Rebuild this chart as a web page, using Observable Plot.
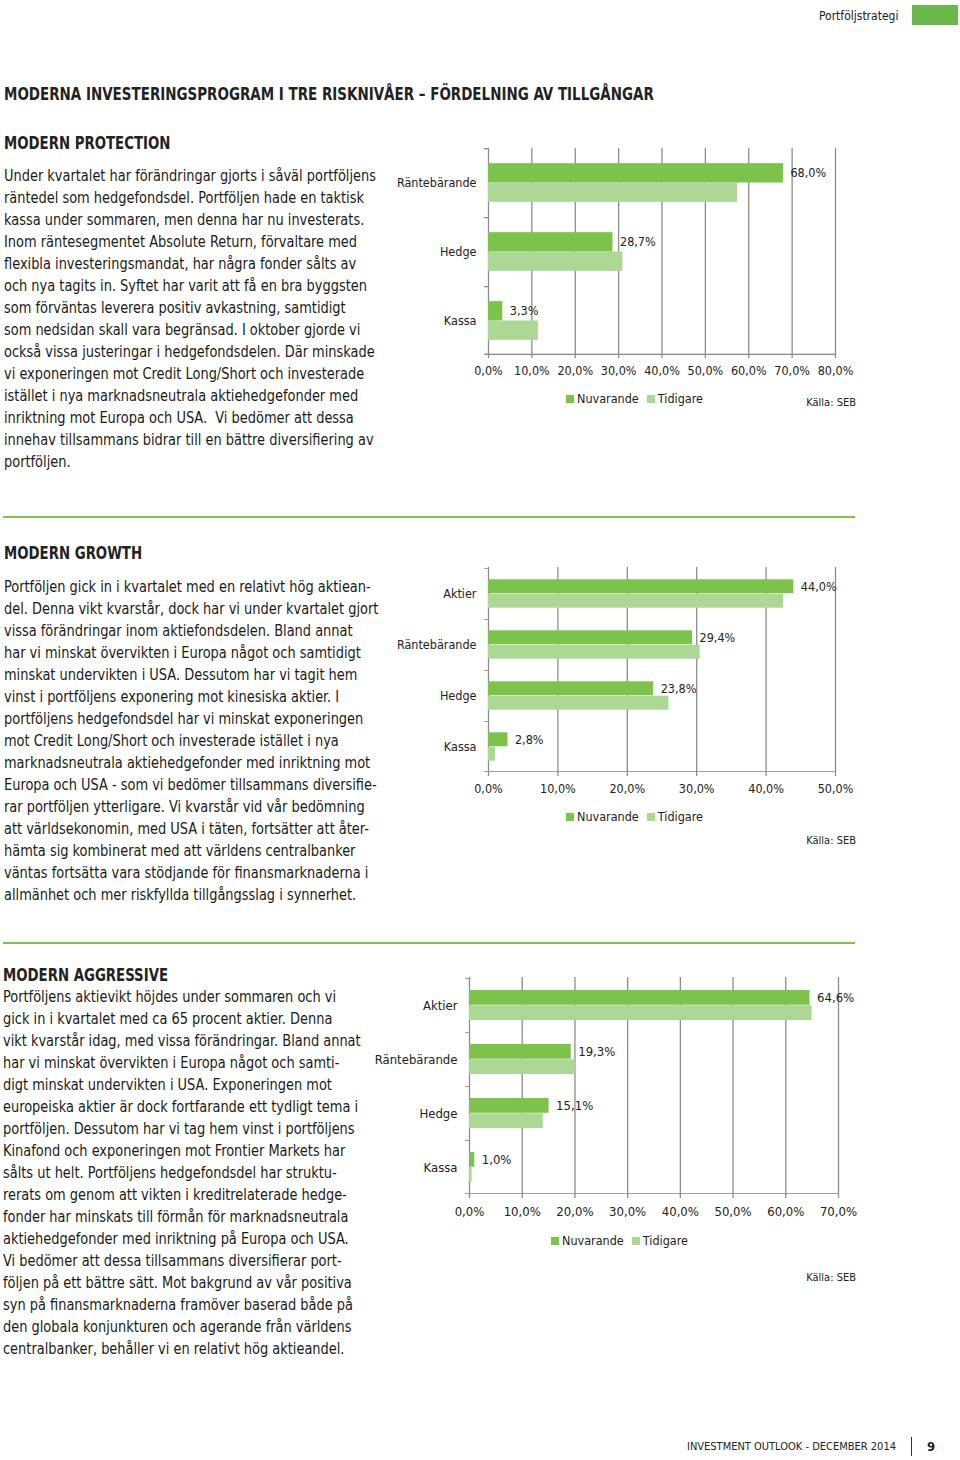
<!DOCTYPE html>
<html>
<head>
<meta charset="utf-8">
<script src="https://cdn.jsdelivr.net/npm/d3@7"></script>
<script src="https://cdn.jsdelivr.net/npm/@observablehq/plot@0.6"></script>
<style>
  html, body { margin: 0; padding: 0; background: #fff; }
  body { width: 960px; height: 1460px; position: relative; overflow: hidden;
         font-family: "Liberation Sans Narrow", "DejaVu Sans Condensed", "Roboto Condensed", sans-serif; color: #1a1a1a; }
  .abs { position: absolute; white-space: pre; transform-origin: 0 0; }
  .body { font-size: 16px; line-height: 22px; transform: scaleX(0.9); }
  .h1 { font-size: 17px; line-height: 22px; font-weight: 600; transform: scaleX(0.88); color: #222; }
  .h2 { font-size: 17px; line-height: 22px; font-weight: 600; transform: scaleX(0.87); color: #222; }
  .rule { position: absolute; height: 2px; background: #7dc24b; left: 3px; width: 852px; }
  .legend { position: absolute; font-size: 12.5px; line-height: 16px; white-space: nowrap; color: #222; }
  .legend span.sw { display: inline-block; width: 8px; height: 8px; margin-right: 3px; vertical-align: 0px; }
  .legend span.lab { margin-right: 8px; }
  .src { position: absolute; font-size: 11px; line-height: 16px; text-align: right; white-space: nowrap; color: #222; }
  .chart { position: absolute; }
</style>
</head>
<body>
<script>
// ---------- DATA ----------
const seriesNames = ["Nuvarande", "Tidigare"];
const seriesColors = ["#7dc24b", "#acd794"];

const protectionCategories = ["Räntebärande", "Hedge", "Kassa"];
const protectionNuvarande = [68.0, 28.7, 3.3];
const protectionTidigare = [57.4, 31.0, 11.5];
const protectionTicks = [0, 10, 20, 30, 40, 50, 60, 70, 80];

const growthCategories = ["Aktier", "Räntebärande", "Hedge", "Kassa"];
const growthNuvarande = [44.0, 29.4, 23.8, 2.8];
const growthTidigare = [42.5, 30.5, 26.0, 1.0];
const growthTicks = [0, 10, 20, 30, 40, 50];

const aggressiveCategories = ["Aktier", "Räntebärande", "Hedge", "Kassa"];
const aggressiveNuvarande = [64.6, 19.3, 15.1, 1.0];
const aggressiveTidigare = [65.0, 20.1, 14.0, 0.5];
const aggressiveTicks = [0, 10, 20, 30, 40, 50, 60, 70];

const sourceText = "Källa: SEB";

const pageTitle = "MODERNA INVESTERINGSPROGRAM I TRE RISKNIVÅER – FÖRDELNING AV TILLGÅNGAR";
const protectionTitle = "MODERN PROTECTION";
const growthTitle = "MODERN GROWTH";
const aggressiveTitle = "MODERN AGGRESSIVE";

const protectionText = [
  "Under kvartalet har förändringar gjorts i såväl portföljens",
  "räntedel som hedgefondsdel. Portföljen hade en taktisk",
  "kassa under sommaren, men denna har nu investerats.",
  "Inom räntesegmentet Absolute Return, förvaltare med",
  "flexibla investeringsmandat, har några fonder sålts av",
  "och nya tagits in. Syftet har varit att få en bra byggsten",
  "som förväntas leverera positiv avkastning, samtidigt",
  "som nedsidan skall vara begränsad. I oktober gjorde vi",
  "också vissa justeringar i hedgefondsdelen. Där minskade",
  "vi exponeringen mot Credit Long/Short och investerade",
  "istället i nya marknadsneutrala aktiehedgefonder med",
  "inriktning mot Europa och USA.  Vi bedömer att dessa",
  "innehav tillsammans bidrar till en bättre diversifiering av",
  "portföljen."
];
const growthText = [
  "Portföljen gick in i kvartalet med en relativt hög aktiean-",
  "del. Denna vikt kvarstår, dock har vi under kvartalet gjort",
  "vissa förändringar inom aktiefondsdelen. Bland annat",
  "har vi minskat övervikten i Europa något och samtidigt",
  "minskat undervikten i USA. Dessutom har vi tagit hem",
  "vinst i portföljens exponering mot kinesiska aktier. I",
  "portföljens hedgefondsdel har vi minskat exponeringen",
  "mot Credit Long/Short och investerade istället i nya",
  "marknadsneutrala aktiehedgefonder med inriktning mot",
  "Europa och USA - som vi bedömer tillsammans diversifie-",
  "rar portföljen ytterligare. Vi kvarstår vid vår bedömning",
  "att världsekonomin, med USA i täten, fortsätter att åter-",
  "hämta sig kombinerat med att världens centralbanker",
  "väntas fortsätta vara stödjande för finansmarknaderna i",
  "allmänhet och mer riskfyllda tillgångsslag i synnerhet."
];
const aggressiveText = [
  "Portföljens aktievikt höjdes under sommaren och vi",
  "gick in i kvartalet med ca 65 procent aktier. Denna",
  "vikt kvarstår idag, med vissa förändringar. Bland annat",
  "har vi minskat övervikten i Europa något och samti-",
  "digt minskat undervikten i USA. Exponeringen mot",
  "europeiska aktier är dock fortfarande ett tydligt tema i",
  "portföljen. Dessutom har vi tag hem vinst i portföljens",
  "Kinafond och exponeringen mot Frontier Markets har",
  "sålts ut helt. Portföljens hedgefondsdel har struktu-",
  "rerats om genom att vikten i kreditrelaterade hedge-",
  "fonder har minskats till förmån för marknadsneutrala",
  "aktiehedgefonder med inriktning på Europa och USA.",
  "Vi bedömer att dessa tillsammans diversifierar port-",
  "följen på ett bättre sätt. Mot bakgrund av vår positiva",
  "syn på finansmarknaderna framöver baserad både på",
  "den globala konjunkturen och agerande från världens",
  "centralbanker, behåller vi en relativt hög aktieandel."
];

const headerText = "Portföljstrategi";
const footerText = "INVESTMENT OUTLOOK - DECEMBER 2014";
const pageNumber = "9";

// ---------- LAYOUT HELPERS ----------
const FONT = '"Liberation Sans Narrow", "DejaVu Sans Condensed", "Roboto Condensed", sans-serif';
function el(tag, cls, css, text) {
  const e = document.createElement(tag);
  if (cls) e.className = cls;
  Object.assign(e.style, css || {});
  if (text != null) e.textContent = text;
  document.body.appendChild(e);
  return e;
}
const fmt = d => d.toFixed(1).replace(".", ",") + "%";

function groupedBarChart({categories, nuv, tid, ticks, width, height, ml, mr, mt, mb, labelFont, tickFont}) {
  const rows = categories.flatMap((c, i) => [
    {cat: c, series: seriesNames[0], value: nuv[i]},
    {cat: c, series: seriesNames[1], value: tid[i]}
  ]);
  const n = categories.length;
  const step = (height - mt - mb) / n;
  const barH = step * 0.28;
  const gap = (step - 2 * barH) / 2;
  const xmax = ticks[ticks.length - 1];
  const pxPerUnit = (width - ml - mr) / xmax;
  const tickLen = 4 / pxPerUnit;
  const grid = "#8c8c8c";
  const nuvRows = rows.filter(d => d.series === seriesNames[0]);
  const tidRows = rows.filter(d => d.series === seriesNames[1]);
  return Plot.plot({
    width, height, marginLeft: ml, marginRight: mr, marginTop: mt, marginBottom: mb,
    style: {fontFamily: FONT, fontSize: tickFont + "px", color: "#222", background: "transparent", overflow: "visible"},
    x: {domain: [0, xmax], label: null},
    y: {domain: categories, padding: 0, label: null},
    marks: [
      Plot.ruleX(ticks, {x: d => d, stroke: grid, strokeWidth: 1.3, insetBottom: -3}),
      Plot.barX(nuvRows, {x: "value", y: "cat", fill: seriesColors[0], insetTop: gap, insetBottom: gap + barH}),
      Plot.barX(tidRows, {x: "value", y: "cat", fill: seriesColors[1], insetTop: gap + barH, insetBottom: gap}),
      // category boundary ticks on the left axis
      Plot.barX(categories, {y: d => d, x1: -tickLen, x2: 0, fill: grid, insetBottom: step - 1.3}),
      // bottom axis line
      Plot.barX([categories[n - 1]], {y: d => d, x1: -tickLen, x2: xmax, fill: grid, insetTop: step - 1.3}),
      Plot.axisX(ticks, {tickSize: 0, tickPadding: 11, tickFormat: fmt, fontSize: tickFont, fill: "#222"}),
      Plot.axisY({tickSize: 0, tickPadding: 12, fontSize: labelFont, fill: "#222"}),
      Plot.text(nuvRows, {x: "value", y: "cat", text: d => fmt(d.value), dx: 7,
        dy: gap + barH / 2 - step / 2, textAnchor: "start", fontSize: tickFont, fill: "#222"})
    ]
  });
}

function legend(x, y) {
  const d = el("div", "legend", {left: x + "px", top: y + "px"});
  seriesNames.forEach((s, i) => {
    const sw = document.createElement("span"); sw.className = "sw"; sw.style.background = seriesColors[i];
    const lab = document.createElement("span"); lab.className = "lab"; lab.textContent = s;
    d.appendChild(sw); d.appendChild(lab);
  });
}
function source(y) {
  el("div", "src", {right: (960 - 856) + "px", top: y + "px"}, sourceText);
}
function textBlock(lines, x, y) {
  el("div", "abs body", {left: x + "px", top: y + "px"}, lines.join("\n"));
}

// ---------- PAGE ----------
el("div", "abs", {left: "819px", top: "8px", fontSize: "12px", lineHeight: "16px", color: "#222"}, headerText);
el("div", "", {position: "absolute", left: "912px", top: "5px", width: "46px", height: "20px", background: "#6ab84b"});

el("div", "abs h1", {left: "4px", top: "83px"}, pageTitle);

// Protection
el("div", "abs h2", {left: "4px", top: "132px"}, protectionTitle);
textBlock(protectionText, 4, 165);
const c1 = groupedBarChart({categories: protectionCategories, nuv: protectionNuvarande, tid: protectionTidigare,
  ticks: protectionTicks, width: 480, height: 245, ml: 108, mr: 25, mt: 8, mb: 30, labelFont: 12.5, tickFont: 12.5});
c1.classList.add("chart"); c1.style.left = "380px"; c1.style.top = "140px"; document.body.appendChild(c1);
legend(566, 391);
source(395);

el("div", "rule", {top: "516px"});

// Growth
el("div", "abs h2", {left: "4px", top: "542px"}, growthTitle);
textBlock(growthText, 4, 576);
const c2 = groupedBarChart({categories: growthCategories, nuv: growthNuvarande, tid: growthTidigare,
  ticks: growthTicks, width: 480, height: 243, ml: 108, mr: 25, mt: 7, mb: 30, labelFont: 12.5, tickFont: 12.5});
c2.classList.add("chart"); c2.style.left = "380px"; c2.style.top = "560px"; document.body.appendChild(c2);
legend(566, 809);
source(833);

el("div", "rule", {top: "942px"});

// Aggressive
el("div", "abs h2", {left: "3px", top: "964px"}, aggressiveTitle);
textBlock(aggressiveText, 3, 986);
const c3 = groupedBarChart({categories: aggressiveCategories, nuv: aggressiveNuvarande, tid: aggressiveTidigare,
  ticks: aggressiveTicks, width: 500, height: 255, ml: 109, mr: 22, mt: 7, mb: 30, labelFont: 13, tickFont: 13});
c3.classList.add("chart"); c3.style.left = "360px"; c3.style.top = "970px"; document.body.appendChild(c3);
legend(551, 1233);
source(1270);

// Footer
el("div", "abs", {left: "687px", top: "1440px", fontSize: "11px", lineHeight: "14px", color: "#222"}, footerText);
el("div", "", {position: "absolute", left: "911px", top: "1437px", width: "1px", height: "19px", background: "#333"});
el("div", "abs", {left: "927px", top: "1439px", fontSize: "13px", lineHeight: "16px", fontWeight: "bold", color: "#222"}, pageNumber);
</script>
</body>
</html>
